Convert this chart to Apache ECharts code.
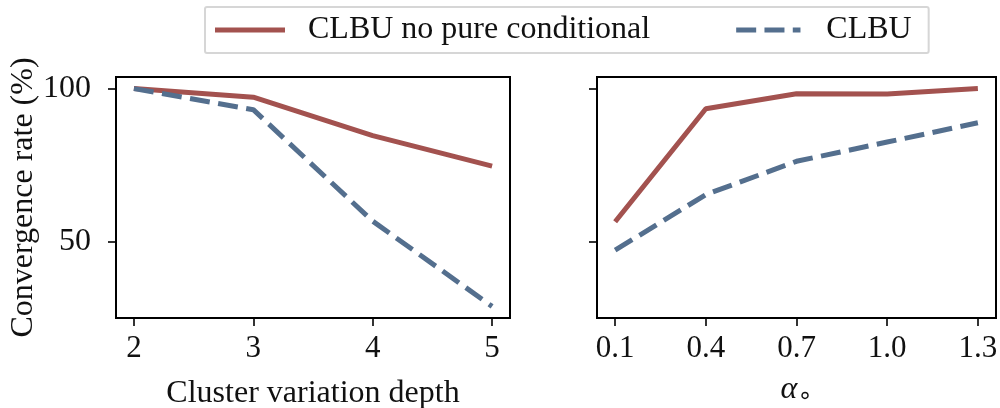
<!DOCTYPE html>
<html>
<head>
<meta charset="utf-8">
<script src="https://cdn.jsdelivr.net/npm/echarts@6/dist/echarts.min.js"></script>
<style>html,body{margin:0;padding:0;background:#fff}#c{width:1000px;height:408px}</style>
</head>
<body>
<div id="c"></div>
<script>
const depthX = [2, 3, 4, 5];
const depthNoPure = [100, 97.2, 84.6, 74.6];
const depthCLBU = [100, 93.1, 56.6, 28.7];
const alphaX = [0.1, 0.4, 0.7, 1.0, 1.3];
const alphaNoPure = [56.4, 93.4, 98.3, 98.2, 100];
const alphaCLBU = [47.1, 65.3, 76.2, 82.5, 88.8];
const yTicks = [50, 100];
const seriesNames = ['CLBU no pure conditional', 'CLBU'];

const RED = '#a3524f', BLUE = '#546f8e';
const FONT = 'Liberation Serif';
const pair = (xs, ys) => xs.map((x, i) => [x, ys[i]]);

const chart = echarts.init(document.getElementById('c'));
const baseX = (min, max, ticks, fmt, name, nameGap) => ({
  type: 'value', min, max,
  axisLine: {show: false},
  axisTick: {show: true, customValues: ticks, length: 8, lineStyle: {color: '#000', width: 1.6}},
  axisLabel: {customValues: ticks, formatter: fmt, color: '#111', fontFamily: FONT, fontSize: 31, margin: 15},
  splitLine: {show: false},
  name, nameLocation: 'middle', nameGap,
  nameTextStyle: {color: '#111', fontFamily: FONT, fontSize: 32}
});
const baseY = (showLabels, name) => ({
  type: 'value', min: 24.9, max: 103.8,
  axisLine: {show: false},
  axisTick: {show: true, customValues: yTicks, length: 8, lineStyle: {color: '#000', width: 1.6}},
  axisLabel: {show: showLabels, customValues: yTicks, color: '#111', fontFamily: FONT, fontSize: 32, margin: 25},
  splitLine: {show: false},
  name, nameLocation: 'middle', nameGap: 76,
  nameTextStyle: {color: '#111', fontFamily: FONT, fontSize: 32}
});
const lineS = (name, color, dashed, xi, data) => ({
  name, type: 'line', xAxisIndex: xi, yAxisIndex: xi, data,
  showSymbol: false, symbol: 'none', silent: true, animation: false,
  lineStyle: {color, width: 5, type: dashed ? [20, 8.5] : 'solid', cap: 'butt'},
  itemStyle: {color}
});

chart.setOption({
  animation: false,
  backgroundColor: '#fff',
  legend: {
    show: true,
    left: 205, top: 7,
    data: [
      {name: seriesNames[0], icon: 'path://M0,0h70v5h-70z'},
      {name: seriesNames[1], icon: 'path://M0,0h20v5h-20z M28.3,0h20v5h-20z M56.6,0h7.7v5h-7.7z'}
    ],
    itemWidth: 70, itemHeight: 5, itemGap: 86,
    padding: [7, 17, 7, 10],
    borderColor: '#d6d6d6', borderWidth: 2, borderRadius: 2,
    textStyle: {color: '#111', fontFamily: FONT, fontSize: 32, padding: [0, 0, 0, 18]}
  },
  grid: [
    {left: 116, top: 77, width: 394, height: 241, show: true, borderColor: '#000', borderWidth: 2, containLabel: false, outerBoundsMode: 'none'},
    {left: 597, top: 77, width: 399, height: 241, show: true, borderColor: '#000', borderWidth: 2, containLabel: false, outerBoundsMode: 'none'}
  ],
  xAxis: [
    Object.assign(baseX(1.85, 5.15, depthX, v => String(v), 'Cluster variation depth', 60), {gridIndex: 0}),
    Object.assign(baseX(0.04, 1.36, alphaX, v => v.toFixed(1), '{a|α}{s|∘}', 53), {gridIndex: 1,
      nameTextStyle: {color: '#111', fontFamily: FONT, fontSize: 30,
        rich: {a: {fontFamily: FONT, fontStyle: 'italic', fontSize: 32, color: '#111'},
               s: {fontFamily: 'DejaVu Sans', fontSize: 24, color: '#111', padding: [14, 0, 0, 0]}}}})
  ],
  yAxis: [
    Object.assign(baseY(true, 'Convergence rate (%)'), {gridIndex: 0}),
    Object.assign(baseY(false, ''), {gridIndex: 1})
  ],
  series: [
    lineS(seriesNames[0], RED, false, 0, pair(depthX, depthNoPure)),
    lineS(seriesNames[1], BLUE, true, 0, pair(depthX, depthCLBU)),
    lineS(seriesNames[0], RED, false, 1, pair(alphaX, alphaNoPure)),
    lineS(seriesNames[1], BLUE, true, 1, pair(alphaX, alphaCLBU))
  ]
});
</script>
</body>
</html>
